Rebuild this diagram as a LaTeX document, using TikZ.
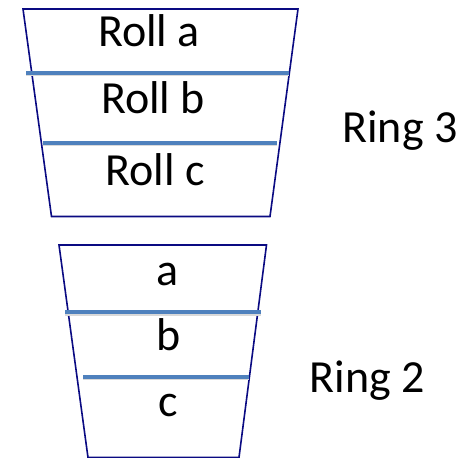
\documentclass[tikz,border=0pt]{standalone}
\usepackage{fontspec}
\setmainfont{Carlito}
\definecolor{navy}{RGB}{10,10,130}
\definecolor{steel}{RGB}{79,129,189}
\tikzset{
  cup/.style={draw=navy, line width=1.6pt, fill=white},
  divider/.style={draw=steel, line width=4pt},
  dshadow/.style={draw=black!15, line width=4pt},
  lbl/.style={anchor=base, inner sep=0pt, font=\fontsize{46}{52}\selectfont},
}
\begin{document}
\begin{tikzpicture}[x=1pt,y=-1pt]
\useasboundingbox (0,0) rectangle (472,458);
% Ring 3 cup
\draw[cup] (23,9) -- (298,9) -- (270,216.5) -- (51.5,216.5) -- cycle;
\draw[dshadow] (26,74.3) -- (289,74.3);
\draw[divider] (26,72.7) -- (289,72.7);
\draw[dshadow] (43,144.3) -- (277,144.3);
\draw[divider] (43,142.7) -- (277,142.7);
\node[lbl] (ra) at (149,46.5) {Roll a};
\node[lbl] (rb) at (153,113) {Roll b};
\node[lbl] (rc) at (155,185) {Roll c};
% Ring 2 cup
\draw[cup] (59,245) -- (266.5,245) -- (239,457.5) -- (88,457.5) -- cycle;
\draw[dshadow] (65,313.8) -- (261,313.8);
\draw[divider] (65,312.2) -- (261,312.2);
\draw[dshadow] (83,378.3) -- (249,378.3);
\draw[divider] (83,376.7) -- (249,376.7);
\node[lbl] (a) at (168,285) {a};
\node[lbl] (b) at (169,350) {b};
\node[lbl] (c) at (168,416.5) {c};
% ring labels
\node[lbl] (r3) at (400,142) {Ring 3};
\node[lbl] (r2) at (367.5,392) {Ring 2};
\end{tikzpicture}
\end{document}
